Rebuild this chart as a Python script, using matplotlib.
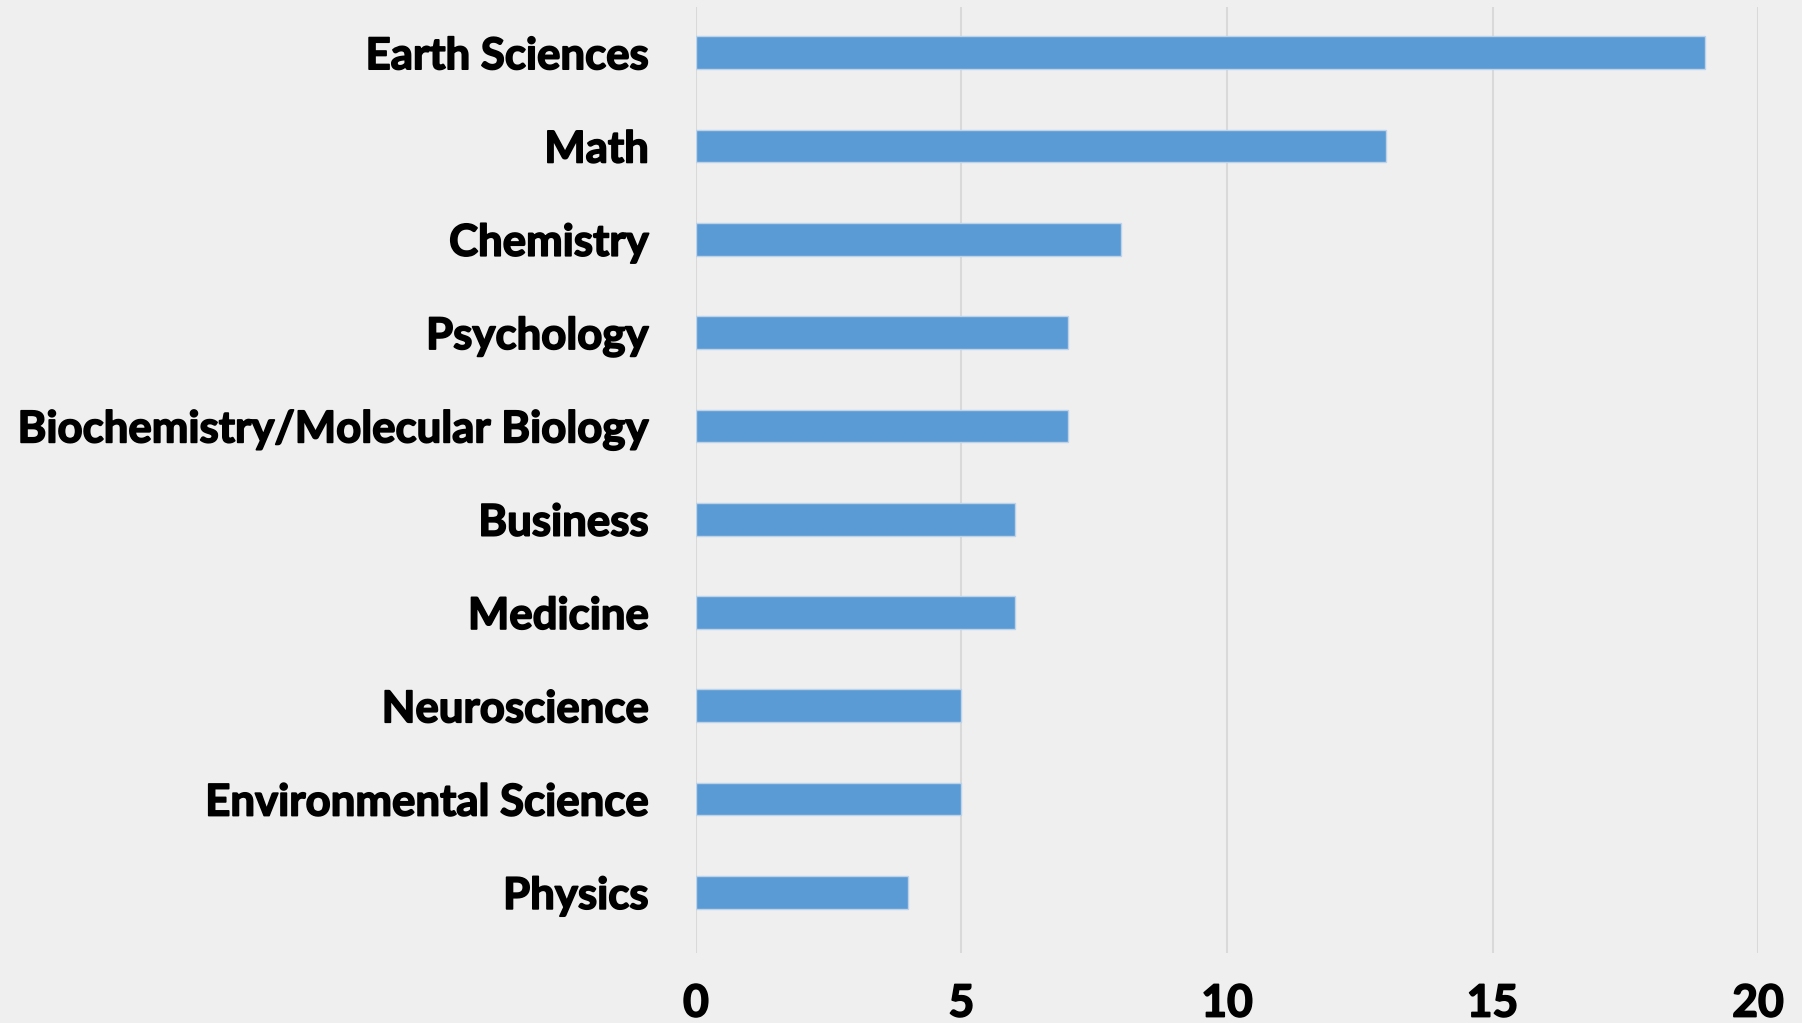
import matplotlib
matplotlib.use('Agg')
import matplotlib.pyplot as plt
import matplotlib.patheffects as pe

categories = ['Earth Sciences', 'Math', 'Chemistry', 'Psychology',
              'Biochemistry/Molecular Biology', 'Business', 'Medicine',
              'Neuroscience', 'Environmental Science', 'Physics']
counts = [19, 13, 8, 7, 7, 6, 6, 5, 5, 4]
xticks = [0, 5, 10, 15, 20]

plt.rcParams['font.family'] = ['Lato', 'DejaVu Sans']
plt.rcParams['font.weight'] = 'bold'

bg = '#efefef'
fig = plt.figure(figsize=(18.02, 10.23), dpi=100, facecolor=bg)
ax = fig.add_axes([0.3862, 0.0684, 0.5894, 0.9248], facecolor=bg)

ypos = list(range(len(categories)))
ax.barh(ypos, counts, height=0.35, color='#5b9bd5', edgecolor='#bcd3ea',
        linewidth=1.0, zorder=3)

ax.set_xlim(0, 20)
ax.set_ylim(9.65, -0.49)
ax.set_xticks(xticks)
ax.set_yticks(ypos)
ax.set_yticklabels(categories, fontsize=31.5, fontweight='bold')
ax.set_xticklabels([str(t) for t in xticks], fontsize=32, fontweight='bold')
ax.tick_params(axis='y', length=0, pad=34)
ax.tick_params(axis='x', length=0, pad=22)

# thicken the text a little, the original font is heavier than Lato Bold
stroke = [pe.withStroke(linewidth=1.2, foreground='black')]
for lbl in ax.get_yticklabels() + ax.get_xticklabels():
    lbl.set_path_effects(stroke)

ax.grid(axis='x', color='#d9d9d9', linewidth=1.5, zorder=0)
ax.grid(axis='y', visible=False)
for s in ax.spines.values():
    s.set_visible(False)

fig.savefig('out.png', dpi=100, facecolor=bg)
plt.close(fig)
